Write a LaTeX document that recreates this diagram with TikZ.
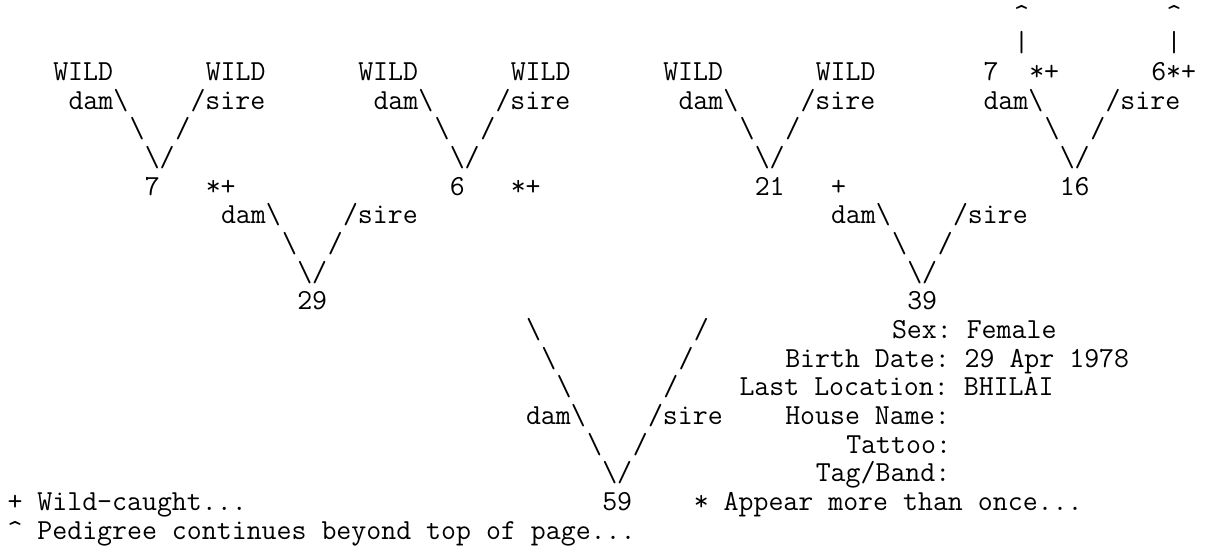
\documentclass[tikz,border=0pt]{standalone}
\usepackage{tikz}
\frenchspacing

\begin{document}
\begin{tikzpicture}[x=7.625pt, y=-14.335pt,
    txt/.style={anchor=base west, inner sep=0pt, outer sep=0pt, font=\ttfamily\fontsize{14.52}{16}\selectfont}]
			\useasboundingbox (-0.492,-0.802) rectangle (79.18,18.312);
			% continuation marks
			\node[txt] (up1) at (66,0) {\textasciicircum};
			\node[txt] (up2) at (76,0) {\textasciicircum};
			\node[txt] (bar1) at (66,1) {\textbar};
			\node[txt] (bar2) at (76,1) {\textbar};
			% top row
			\node[txt] (wild1) at (3,2) {WILD};
			\node[txt] (wild2) at (13,2) {WILD};
			\node[txt] (wild3) at (23,2) {WILD};
			\node[txt] (wild4) at (33,2) {WILD};
			\node[txt] (wild5) at (43,2) {WILD};
			\node[txt] (wild6) at (53,2) {WILD};
			\node[txt] (top7) at (64,2) {7};
			\node[txt] (top7f) at (67,2) {*+};
			\node[txt] (top6) at (75,2) {6*+};
			\node[txt] (dam1) at (4,3) {dam\textbackslash};
			\node[txt] (sire1) at (12,3) {/sire};
			\node[txt] (dam2) at (24,3) {dam\textbackslash};
			\node[txt] (sire2) at (32,3) {/sire};
			\node[txt] (dam3) at (44,3) {dam\textbackslash};
			\node[txt] (sire3) at (52,3) {/sire};
			\node[txt] (dam4) at (64,3) {dam\textbackslash};
			\node[txt] (sire4) at (72,3) {/sire};
			\node[txt] (l1a) at (8,4) {\textbackslash};
			\node[txt] (r1a) at (11,4) {/};
			\node[txt] (l2a) at (28,4) {\textbackslash};
			\node[txt] (r2a) at (31,4) {/};
			\node[txt] (l3a) at (48,4) {\textbackslash};
			\node[txt] (r3a) at (51,4) {/};
			\node[txt] (l4a) at (68,4) {\textbackslash};
			\node[txt] (r4a) at (71,4) {/};
			\node[txt] (v1) at (9,5) {\textbackslash/};
			\node[txt] (v2) at (29,5) {\textbackslash/};
			\node[txt] (v3) at (49,5) {\textbackslash/};
			\node[txt] (v4) at (69,5) {\textbackslash/};
			% grandparents
			\node[txt] (n7) at (9,6) {7};
			\node[txt] (n7f) at (13,6) {*+};
			\node[txt] (n6) at (29,6) {6};
			\node[txt] (n6f) at (33,6) {*+};
			\node[txt] (n21) at (49,6) {21};
			\node[txt] (n21f) at (54,6) {+};
			\node[txt] (n16) at (69,6) {16};
			\node[txt] (dam5) at (14,7) {dam\textbackslash};
			\node[txt] (sire5) at (22,7) {/sire};
			\node[txt] (dam6) at (54,7) {dam\textbackslash};
			\node[txt] (sire6) at (62,7) {/sire};
			\node[txt] (l5a) at (18,8) {\textbackslash};
			\node[txt] (r5a) at (21,8) {/};
			\node[txt] (l6a) at (58,8) {\textbackslash};
			\node[txt] (r6a) at (61,8) {/};
			\node[txt] (v5) at (19,9) {\textbackslash/};
			\node[txt] (v6) at (59,9) {\textbackslash/};
			% parents
			\node[txt] (n29) at (19,10) {29};
			\node[txt] (n39) at (59,10) {39};
			\node[txt] (l7a) at (34,11) {\textbackslash};
			\node[txt] (r7a) at (45,11) {/};
			\node[txt] (l7b) at (35,12) {\textbackslash};
			\node[txt] (r7b) at (44,12) {/};
			\node[txt] (l7c) at (36,13) {\textbackslash};
			\node[txt] (r7c) at (43,13) {/};
			\node[txt] (dam7) at (34,14) {dam\textbackslash};
			\node[txt] (sire7) at (42,14) {/sire};
			\node[txt] (l7d) at (38,15) {\textbackslash};
			\node[txt] (r7d) at (41,15) {/};
			\node[txt] (v7) at (39,16) {\textbackslash/};
			\node[txt] (n59) at (39,17) {59};
			% details
			\node[txt] (sex) at (58,11) {Sex: Female};
			\node[txt] (birth) at (51,12) {Birth Date: 29 Apr 1978};
			\node[txt] (loc) at (48,13) {Last Location: BHILAI};
			\node[txt] (house) at (51,14) {House Name:};
			\node[txt] (tattoo) at (55,15) {Tattoo:};
			\node[txt] (tag) at (53,16) {Tag/Band:};
			% legend
			\node[txt] (wildkey) at (0,17) {+ Wild-caught...};
			\node[txt] (oncekey) at (45,17) {* Appear more than once...};
			\node[txt] (topkey) at (0,18) {\textasciicircum{} Pedigree continues beyond top of page...};
\end{tikzpicture}
\end{document}
